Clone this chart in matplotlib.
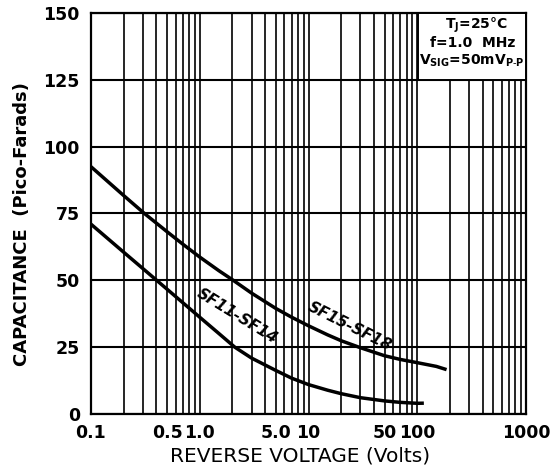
import numpy as np
import matplotlib
matplotlib.use('Agg')
import matplotlib.pyplot as plt
from matplotlib.ticker import FixedLocator, LogLocator, NullFormatter
from matplotlib.patches import Rectangle

plt.rcParams['font.family'] = ['DejaVu Sans']

# values
v_sf15 = [0.1, 0.2, 0.31, 0.5, 0.7, 1.0, 1.5, 2.0, 3.0, 5.0, 7.0, 10, 15, 20, 30, 50, 70, 100, 150, 186]
c_sf15 = [92.5, 81.7, 75.0, 68.2, 63.5, 58.7, 53.6, 50.2, 45.2, 39.5, 36.2, 33.0, 29.6, 27.4, 24.8, 21.8,
          20.4, 19.2, 17.8, 16.6]

v_sf11 = [0.1, 0.2, 0.3, 0.5, 0.7, 1.0, 1.5, 2.1, 3.0, 5.0, 7.0, 10, 15, 20, 30, 50, 70, 100, 115]
c_sf11 = [71, 60.5, 54.4, 46.7, 41.6, 36.2, 30.1, 25, 20.9, 16.3, 13.4, 11.0, 8.9, 7.6, 6.1, 4.9,
          4.35, 4.0, 4.05]

xticks = [0.1, 0.5, 1.0, 5.0, 10, 50, 100, 1000]
xtick_labels = ['0.1', '0.5', '1.0', '5.0', '10', '50', '100', '1000']
yticks = [0, 25, 50, 75, 100, 125, 150]

fig = plt.figure(figsize=(5.55, 4.75), dpi=100)
ax = fig.add_axes([91/555, 1 - 414/475, 435/555, 401/475])

ax.plot(v_sf15, c_sf15, color='black', lw=2.5, solid_capstyle='butt', solid_joinstyle='round', zorder=4)
ax.plot(v_sf11, c_sf11, color='black', lw=2.5, solid_capstyle='butt', solid_joinstyle='round', zorder=4)

ax.set_xscale('log')
ax.set_xlim(0.1, 1000)
ax.set_ylim(0, 150)
ax.xaxis.set_major_locator(FixedLocator(xticks))
ax.set_xticklabels(xtick_labels)
ax.xaxis.set_minor_locator(LogLocator(base=10, subs=np.arange(1, 10), numticks=50))
ax.xaxis.set_minor_formatter(NullFormatter())
ax.set_yticks(yticks)

ax.tick_params(which='both', length=0)
ax.tick_params(axis='x', pad=7, labelsize=12.5)
ax.tick_params(axis='y', pad=8, labelsize=12.5)
for lab in ax.get_xticklabels() + ax.get_yticklabels():
    lab.set_fontweight('bold')

ax.grid(axis='x', which='both', color='black', lw=1.2, zorder=1)
ax.grid(axis='y', which='major', color='black', lw=1.5, zorder=1)
ax.set_axisbelow(True)
for sp in ax.spines.values():
    sp.set_linewidth(1.6)

# conditions box
ax.add_patch(Rectangle((0.752, 0.833), 0.248, 0.167, transform=ax.transAxes,
                       facecolor='white', edgecolor='black', lw=1.4, zorder=3))
ax.text(0.885, 0.968, r'T$_\mathregular{J}$=25°C', transform=ax.transAxes,
        ha='center', va='center', fontsize=10, fontweight='bold', zorder=5)
ax.text(0.878, 0.925, 'f=1.0  MHz', transform=ax.transAxes,
        ha='center', va='center', fontsize=10, fontweight='bold', zorder=5)
ax.text(0.876, 0.882, r'V$_\mathregular{SIG}$=50mV$_\mathregular{P\text{-}P}$', transform=ax.transAxes,
        ha='center', va='center', fontsize=10, fontweight='bold', zorder=5)

# curve labels
ax.text(2.19, 36.6, 'SF11-SF14', rotation=-31.5, rotation_mode='anchor',
        ha='center', va='center', fontsize=11, fontweight='bold', style='italic', zorder=5)
ax.text(23.9, 32.8, 'SF15-SF18', rotation=-26.5, rotation_mode='anchor',
        ha='center', va='center', fontsize=11, fontweight='bold', style='italic', zorder=5)

fig.text(300/555, 1 - 456/475, 'REVERSE VOLTAGE (Volts)', ha='center', va='center',
         fontsize=14.5)
fig.text(22/555, 1 - 224/475, 'CAPACITANCE  (Pico-Farads)', ha='center', va='center',
         rotation=90, fontsize=13, fontweight='bold')

fig.savefig('out.png', dpi=100)
